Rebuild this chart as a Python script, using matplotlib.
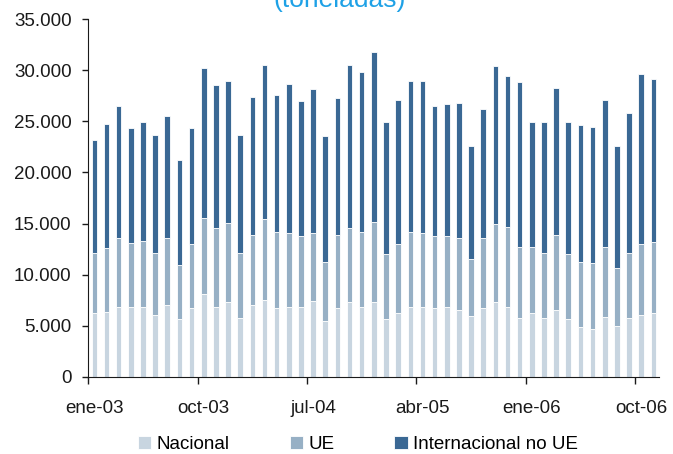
import matplotlib.pyplot as plt
import numpy as np

# Monthly values, ene-03 .. nov-06 (toneladas)
months = ['ene', 'feb', 'mar', 'abr', 'may', 'jun', 'jul', 'ago', 'sep', 'oct', 'nov', 'dic']
labels = [m + '-0' + str(y) for y in range(3, 7) for m in months][:47]

nacional = [6200, 6370, 6860, 6860, 6860, 6040, 7020, 5620, 6690, 8100,
            6860, 7310, 5780, 7020, 7510, 6690, 6860, 6860, 7440, 5450,
            6690, 7310, 6860, 7310, 5620, 6200, 6860, 6860, 6690, 6860,
            6530, 5940, 6690, 7310, 6860, 5780, 6200, 5780, 6530, 5620,
            4830, 4640, 5880, 4960, 5780, 6040, 6200]
ue_top = [12150, 12640, 13550, 13130, 13290, 12150, 13620, 10900, 12960, 15510,
          14530, 15020, 12150, 13880, 15480, 14200, 14040, 13780, 14040, 11230,
          13880, 14530, 14200, 15120, 12020, 12960, 14200, 14040, 13780, 13780,
          13620, 11530, 13620, 14950, 14630, 12730, 12730, 12150, 13880, 11980,
          11200, 11100, 12730, 10610, 12150, 12960, 13220]
total = [23180, 24780, 26480, 24320, 24910, 23670, 25570, 21190, 24320, 30230,
         28540, 28990, 23670, 27430, 30560, 27590, 28700, 26970, 28210, 23540,
         27300, 30560, 29810, 31800, 24950, 27130, 28990, 28990, 26510, 26680,
         26810, 22590, 26220, 30430, 29450, 28860, 24950, 24950, 28240, 24950,
         24620, 24460, 27100, 22590, 25860, 29610, 29160]

nacional = np.array(nacional)
ue = np.array(ue_top) - nacional
no_ue = np.array(total) - np.array(ue_top)

c_nac = '#c8d5e0'
c_ue = '#97b0c5'
c_noue = '#3a6894'

plt.rcParams['font.family'] = ['Liberation Sans', 'DejaVu Sans']

fig = plt.figure(figsize=(6.73, 4.54), dpi=100)
ax = fig.add_axes([0.1312, 0.1703, 0.8486, 0.7872])

x = np.arange(len(labels))
w = 0.46
ax.bar(x, nacional, w, color=c_nac, edgecolor='white', linewidth=0.6, label='Nacional')
ax.bar(x, ue, w, bottom=nacional, color=c_ue, edgecolor='white', linewidth=0.6, label='UE')
ax.bar(x, no_ue, w, bottom=nacional + ue, color=c_noue, edgecolor='white', linewidth=0.6,
       label='Internacional no UE')

ax.set_xlim(-0.5, len(labels) - 0.5)
ax.set_ylim(0, 35000)
ax.set_yticks(range(0, 35001, 5000))
ax.set_yticklabels([f'{v:,}'.replace(',', '.') for v in range(0, 35001, 5000)])

# tick marks between categories, labels on the months
ax.set_xticks(np.arange(-0.5, len(labels), 9))
ax.set_xticklabels([])
ax.set_xticks(np.arange(0, len(labels), 9), minor=True)
ax.set_xticklabels([labels[i] for i in range(0, len(labels), 9)], minor=True)
ax.tick_params(axis='x', which='major', length=5, width=1, direction='out')
ax.tick_params(axis='x', which='minor', length=0, pad=17, labelsize=13.5, colors='#1a1a1a')
ax.tick_params(axis='y', length=4, width=1, pad=8, labelsize=13.5, colors='#1a1a1a')
ax.tick_params(axis='x', colors='#1a1a1a')

for s in ['top', 'right']:
    ax.spines[s].set_visible(False)
ax.spines['left'].set_color('#1a1a1a')
ax.spines['bottom'].set_color('#1a1a1a')

# title is cropped at the top edge in the original
fig.text(0.505, 1.0, '(toneladas)', ha='center', va='center', fontsize=19, color='#1ea1e6')

fig.legend(loc='center', bbox_to_anchor=(0.532, 0.021), ncol=3, frameon=False,
           fontsize=13.5, handlelength=0.7, handleheight=0.7, handletextpad=0.3,
           columnspacing=3.2, borderaxespad=0)

fig.savefig('out.png', dpi=100)
